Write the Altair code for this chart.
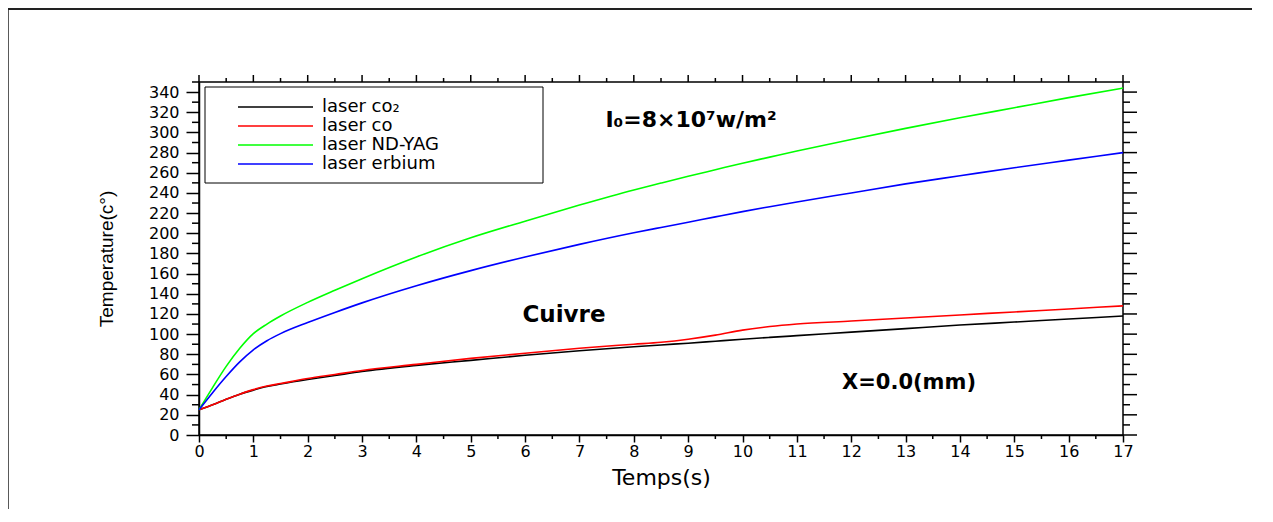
import altair as alt
import pandas as pd

# ---- data ----
time_s = [0, 0.25, 0.5, 0.75, 1, 1.25, 1.5, 2, 2.5, 3, 4, 5, 6, 7, 8, 8.5, 9, 9.5, 10, 10.5, 11, 12, 13, 14, 15, 16, 17]
temp_co2 = [25, 30, 35.5, 40.5, 44.5, 48, 50.5, 55, 59, 63, 69, 74, 79, 83.5, 87.5, 89.3, 91, 93, 95, 96.8, 98.5, 102, 105.5, 109, 112, 115, 118]
temp_co = [25, 30, 35.5, 40.5, 45, 48.5, 51, 56, 60, 64, 70, 76, 81, 86, 90, 92, 95, 99, 104, 107.5, 110, 113, 116, 119, 122, 125, 128]
temp_ndyag = [25, 47, 68, 86, 100.5, 110, 118, 131.5, 143.5, 155, 176.5, 195.5, 212, 228, 243, 249.8, 256.5, 263, 269.5, 275.5, 281.5, 293, 304, 314.5, 324.5, 334.5, 344]
temp_erbium = [25, 42, 58, 72.5, 84.5, 93.5, 100.5, 111.5, 121.5, 131, 148, 163, 176.5, 189, 200.5, 205.8, 211, 216.3, 221.5, 226.3, 231, 240, 249, 257, 265, 272.5, 280]

series = ["laser co\u2082", "laser co", "laser ND-YAG", "laser erbium"]
colors = ["#000000", "#ff0000", "#00ff00", "#0000ff"]

x_major = list(range(0, 18))
x_minor = [i + 0.5 for i in range(17)]
y_major = list(range(0, 341, 20))
y_minor = list(range(10, 351, 20))

FONT = "DejaVu Sans"

rows = []
for name, vals in zip(series, [temp_co2, temp_co, temp_ndyag, temp_erbium]):
    for t, v in zip(time_s, vals):
        rows.append({"t": t, "T": v, "series": name})
df = pd.DataFrame(rows)

color_scale = alt.Scale(domain=series, range=colors)
x_scale = alt.Scale(domain=[0, 17], nice=False, zero=False)
y_scale = alt.Scale(domain=[0, 350], nice=False, zero=False)

x_axis = alt.Axis(values=x_major, format="d", title="Temps(s)", tickSize=7, tickWidth=1.5,
                  tickColor="black", domainColor="black", domainWidth=1.5, labelPadding=1,
                  labelFont=FONT, labelFontSize=16, labelColor="black", grid=False,
                  labelFlush=False, labelOverlap=False,
                  titleFont=FONT, titleFontSize=22, titleFontWeight="normal",
                  titleColor="black", titlePadding=8)
y_axis = alt.Axis(values=y_major, format="d", title="Temperature(c\u00b0)", tickSize=13,
                  tickWidth=1.5, tickColor="black", domainColor="black", domainWidth=1.5,
                  labelPadding=7, labelFont=FONT, labelFontSize=16, labelColor="black",
                  labelFlush=False, labelOverlap=False,
                  grid=False, titleFont="Liberation Sans", titleFontSize=19,
                  titleFontWeight="normal", titleColor="black", titlePadding=32)

tx = alt.X("t:Q", scale=x_scale, axis=x_axis)
ty = alt.Y("T:Q", scale=y_scale, axis=y_axis)

lines = alt.Chart(df).mark_line(strokeWidth=1.6, interpolate="monotone").encode(
    x=tx, y=ty,
    color=alt.Color("series:N", scale=color_scale, legend=None),
)

xmaj = pd.DataFrame({"t": x_major})
xmin = pd.DataFrame({"t": x_minor})
ymaj = pd.DataFrame({"T": y_major})
ymin = pd.DataFrame({"T": y_minor})

tick_style = dict(color="black", strokeWidth=1.5)
bottom_minor = alt.Chart(xmin).mark_rule(**tick_style).encode(x=tx, y=alt.value(353), y2=alt.value(357))
top_major = alt.Chart(xmaj).mark_rule(**tick_style).encode(x=tx, y=alt.value(0), y2=alt.value(-7))
top_minor = alt.Chart(xmin).mark_rule(**tick_style).encode(x=tx, y=alt.value(0), y2=alt.value(-4))
left_minor = alt.Chart(ymin).mark_rule(**tick_style).encode(y=ty, x=alt.value(0), x2=alt.value(-7))
right_major = alt.Chart(ymaj).mark_rule(**tick_style).encode(y=ty, x=alt.value(924), x2=alt.value(938))
right_minor = alt.Chart(ymin).mark_rule(**tick_style).encode(y=ty, x=alt.value(924), x2=alt.value(931))

one = pd.DataFrame({"k": [0]})
ann_cuivre = alt.Chart(one).mark_text(font=FONT, fontSize=23, fontWeight="bold", color="black").encode(
    x=alt.value(365), y=alt.value(233), text=alt.value("Cuivre"))
ann_x = alt.Chart(one).mark_text(font=FONT, fontSize=21, fontWeight="bold", color="black").encode(
    x=alt.value(710), y=alt.value(301), text=alt.value("X=0.0(mm)"))
ann_i = alt.Chart(one).mark_text(font=FONT, fontSize=22, fontWeight="bold", color="black").encode(
    x=alt.value(492), y=alt.value(38), text=alt.value("I\u2080=8\u00d710\u2077w/m\u00b2"))

frame_top = alt.Chart(one).mark_rule(color="#222222", strokeWidth=2).encode(
    x=alt.value(-191), x2=alt.value(1053), y=alt.value(-73))
frame_left = alt.Chart(one).mark_rule(color="#222222", strokeWidth=1.5).encode(
    x=alt.value(-191), y=alt.value(-73), y2=alt.value(460))

main = alt.layer(lines, bottom_minor, top_major, top_minor, left_minor, right_major, right_minor,
                 ann_cuivre, ann_x, ann_i, frame_top, frame_left)

legend_df = pd.DataFrame({"series": series, "row": list(range(len(series)))})
row_y = alt.Y("row:Q", scale=alt.Scale(domain=[0, 3], range=[25, 82]), axis=None)
legend_box = alt.Chart(one).mark_rect(fill="white", stroke="black", strokeWidth=1).encode(
    x=alt.value(6), x2=alt.value(344), y=alt.value(5), y2=alt.value(101))
legend_lines = alt.Chart(legend_df).mark_rule(strokeWidth=1.6).encode(
    x=alt.value(39), x2=alt.value(114), y=row_y,
    color=alt.Color("series:N", scale=color_scale, legend=None))
legend_text = alt.Chart(legend_df).mark_text(align="left", baseline="middle", font=FONT, fontSize=18,
                                             color="black").encode(
    x=alt.value(123), y=row_y, text="series:N")
legend = alt.layer(legend_box, legend_lines, legend_text)

chart = alt.layer(main, legend).resolve_scale(y="independent").properties(
    width=924, height=353, autosize="none",
    padding={"left": 191, "top": 74, "right": 130, "bottom": 74},
).configure_view(stroke="black", strokeWidth=1.5)

chart.save("out.html", embed_options={"renderer": "svg", "actions": False})
